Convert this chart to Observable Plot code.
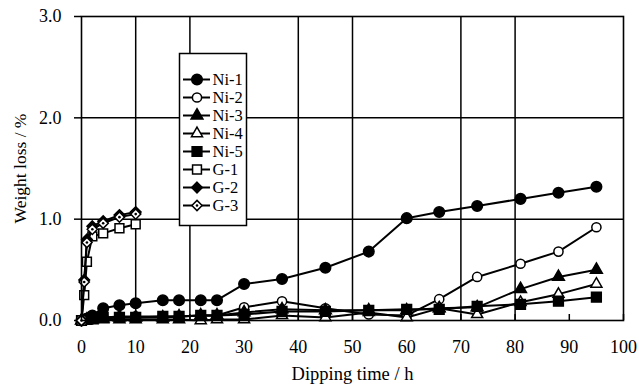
<!DOCTYPE html>
<html><head><meta charset="utf-8">
<script src="https://cdn.jsdelivr.net/npm/d3@7"></script>
<script src="https://cdn.jsdelivr.net/npm/@observablehq/plot@0.6"></script>
<style>
body{margin:0;background:#fff;}
#wrap{position:relative;width:639px;height:388px;}
#legend{position:absolute;left:179px;top:53px;}
</style></head><body><div id="wrap"><div id="chart"></div><div id="legend"></div></div>
<script>
// Dipping times (h)
const niTimes = [0, 1, 2, 4, 7, 10, 15, 18, 22, 25, 30, 37, 45, 53, 60, 66, 73, 81, 88, 95];
const gTimes = [0, 0.5, 1, 2, 4, 7, 10];
// Weight loss (%)
const ni1 = [0, 0.02, 0.05, 0.12, 0.15, 0.17, 0.2, 0.2, 0.2, 0.2, 0.36, 0.41, 0.52, 0.68, 1.01, 1.07, 1.13, 1.2, 1.26, 1.32];
const ni2 = [0, 0.01, 0.02, 0.03, 0.04, 0.04, 0.04, 0.04, 0.05, 0.05, 0.13, 0.19, 0.12, 0.06, 0.05, 0.21, 0.43, 0.56, 0.68, 0.92];
const ni3 = [0, 0.01, 0.01, 0.02, 0.03, 0.03, 0.03, 0.04, 0.05, 0.05, 0.08, 0.11, 0.1, 0.1, 0.1, 0.12, 0.13, 0.31, 0.43, 0.5];
const ni4 = [0, 0, 0, 0.01, 0.01, 0.01, 0.01, 0.01, 0, 0.01, 0.01, 0.05, 0.03, 0.08, 0.03, 0.12, 0.06, 0.18, 0.26, 0.36];
const ni5 = [0, 0.01, 0.02, 0.03, 0.03, 0.03, 0.04, 0.04, 0.05, 0.05, 0.06, 0.09, 0.09, 0.1, 0.11, 0.11, 0.14, 0.16, 0.19, 0.23];
const g1 = [0, 0.25, 0.58, 0.83, 0.86, 0.91, 0.95];
const g2 = [0, 0.4, 0.8, 0.93, 0.98, 1.04, 1.07];
const g3 = [0, 0.38, 0.77, 0.9, 0.96, 1.02, 1.05];
const seriesNames = ["Ni-1", "Ni-2", "Ni-3", "Ni-4", "Ni-5", "G-1", "G-2", "G-3"];
const xTicks = [0, 10, 20, 30, 40, 50, 60, 70, 80, 90, 100];
const yTicks = [0, 1, 2, 3];
const xGrid = [10, 20, 40, 50, 70, 80];
const yGrid = [1, 2];
const xTitle = "Dipping time / h";
const yTitle = "Weight loss / %";

const seriesValues = [ni1, ni2, ni3, ni4, ni5, g1, g2, g3];
const seriesTimes = [niTimes, niTimes, niTimes, niTimes, niTimes, gTimes, gTimes, gTimes];
const styles = [
  {symbol: "circle", open: false, r: 5.3},
  {symbol: "circle", open: true, r: 4.6},
  {symbol: "triangle", open: false, r: 4.4},
  {symbol: "triangle", open: true, r: 4.1},
  {symbol: "square", open: false, r: 5.5},
  {symbol: "square", open: true, r: 5},
  {symbol: "diamond2", open: false, r: 4.8},
  {symbol: "diamond2", open: true, r: 4.6, center: true}
];

const FONT = '"Liberation Serif", "Times New Roman", serif';
const SW = 2;

function seriesMarks(i, rows, xAcc, yAcc) {
  const st = styles[i];
  const ms = [];
  ms.push(Plot.dot(rows, {x: xAcc, y: yAcc, symbol: st.symbol, r: st.r,
    fill: st.open ? "white" : "black", stroke: "black", strokeWidth: 1.5}));
  if (st.center) ms.push(Plot.dot(rows, {x: xAcc, y: yAcc, r: 1.3, fill: "black"}));
  return ms;
}

const marks = [
  Plot.gridY(yGrid, {stroke: "#000", strokeOpacity: 1, strokeWidth: 1.5}),
  Plot.gridX(xGrid, {stroke: "#000", strokeOpacity: 1, strokeWidth: 1.5}),
  Plot.axisY(yTicks, {tickSize: 7, tickPadding: 13, tickFormat: d => d.toFixed(1), strokeWidth: 1.5, fontSize: 18,
    label: null}),
  Plot.axisX(xTicks, {tickSize: -6, tickPadding: 26, strokeWidth: 1.5, fontSize: 18, label: null})
];
seriesNames.forEach((name, i) => {
  const rows = seriesTimes[i].map((t, j) => ({t, v: seriesValues[i][j]}));
  marks.push(Plot.line(rows, {x: "t", y: "v", stroke: "black", strokeWidth: SW}));
  marks.push(...seriesMarks(i, rows, "t", "v"));
});
marks.push(Plot.frame({stroke: "black", strokeWidth: 1.6}));
marks.push(Plot.axisY(yTicks, {tickSize: 0, tickFormat: () => "", label: yTitle, labelAnchor: "center",
  labelOffset: 68, labelArrow: "none", fontSize: 17.5}));
marks.push(Plot.text([xTitle], {frameAnchor: "bottom", dy: 59, text: d => d, fontSize: 18.5}));

const chart = Plot.plot({
  width: 639, height: 388,
  marginLeft: 81, marginRight: 16, marginTop: 16, marginBottom: 68,
  style: {fontFamily: FONT, fontSize: "17px", color: "black", background: "white"},
  x: {domain: [0, 100]},
  y: {domain: [0, 3]},
  marks
});
document.getElementById("chart").append(chart);

// Legend
const legMarks = [Plot.frame({fill: "white", stroke: "black", strokeWidth: 1.5})];
seriesNames.forEach((name, i) => {
  legMarks.push(Plot.ruleY([name], {x1: 0, x2: 1, y: d => d, stroke: "black", strokeWidth: SW}));
  legMarks.push(...seriesMarks(i, [name], () => 0.5, d => d));
  legMarks.push(Plot.text([name], {x: 1, y: d => d, text: d => d, textAnchor: "start", dx: 2, fontSize: 16.5}));
});
const legend = Plot.plot({
  width: 67, height: 172, margin: 0,
  style: {fontFamily: FONT, fontSize: "16px", color: "black", background: "transparent", overflow: "visible"},
  x: {domain: [0, 1], range: [4, 31], axis: null},
  y: {type: "point", domain: seriesNames, range: [15, 162], axis: null},
  marks: legMarks
});
document.getElementById("legend").append(legend);
</script>
</body></html>
